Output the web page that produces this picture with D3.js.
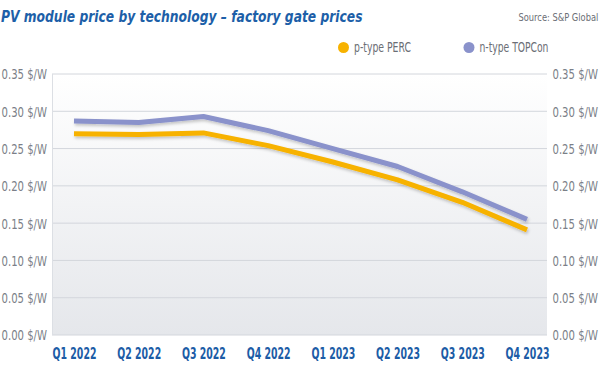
<!DOCTYPE html>
<html>
<head>
<meta charset="utf-8">
<script src="https://cdn.jsdelivr.net/npm/d3@7"></script>
<style>
    body { margin: 0; background: #fff; }
    svg text { font-family: "DejaVu Sans Condensed", "Roboto", sans-serif; }
</style>
</head>
<body>
<div id="chart"></div>
<script>
(function () {
    "use strict";

    const quarters = ["Q1 2022", "Q2 2022", "Q3 2022", "Q4 2022", "Q1 2023", "Q2 2023", "Q3 2023", "Q4 2023"];
    const percPrices = [0.270, 0.269, 0.271, 0.254, 0.232, 0.208, 0.178, 0.141];
    const topconPrices = [0.287, 0.285, 0.293, 0.274, 0.250, 0.226, 0.192, 0.155];
    const yTicks = [0, 0.05, 0.10, 0.15, 0.20, 0.25, 0.30, 0.35];

    const seriesList = [
        { name: "p-type PERC", values: percPrices, color: "#f7b200", textWidth: 57 },
        { name: "n-type TOPCon", values: topconPrices, color: "#8a92cb", textWidth: 69 }
    ];

    const width = 600;
    const height = 381;
    const plot = { left: 52, right: 547, top: 74, bottom: 335 };

    const svg = d3.select("#chart").append("svg")
        .attr("width", width)
        .attr("height", height);

    const defs = svg.append("defs");

    const grad = defs.append("linearGradient")
        .attr("id", "plot-bg")
        .attr("x1", 0).attr("x2", 0)
        .attr("y1", 0).attr("y2", 1);
    grad.append("stop").attr("offset", "0%").attr("stop-color", "#ffffff");
    grad.append("stop").attr("offset", "100%").attr("stop-color", "#e5e7eb");

    const shadow = defs.append("filter")
        .attr("id", "line-shadow")
        .attr("x", "-10%").attr("y", "-30%")
        .attr("width", "120%").attr("height", "160%");
    shadow.append("feDropShadow")
        .attr("dx", 1).attr("dy", 2)
        .attr("stdDeviation", 1.5)
        .attr("flood-color", "#000")
        .attr("flood-opacity", 0.22);

    const xScale = d3.scalePoint()
        .domain(quarters)
        .range([74, 527]);

    const yScale = d3.scaleLinear()
        .domain([0, 0.35])
        .range([plot.bottom, plot.top]);

    // squeeze a text horizontally to a given width (condensed look)
    function squeeze(sel, targetWidth) {
        sel.each(function (d) {
            const w = this.getComputedTextLength();
            const tw = typeof targetWidth === "function" ? targetWidth(d) : targetWidth;
            const x = +this.getAttribute("x") || 0;
            d3.select(this).attr("transform",
                `translate(${x},0) scale(${tw / w},1) translate(${-x},0)`);
        });
    }

    // plot background
    svg.append("rect")
        .attr("x", plot.left)
        .attr("y", plot.top)
        .attr("width", plot.right - plot.left)
        .attr("height", plot.bottom - plot.top)
        .attr("fill", "url(#plot-bg)");

    // grid lines
    svg.append("g")
        .selectAll("line")
        .data(yTicks)
        .join("line")
        .attr("x1", plot.left)
        .attr("x2", plot.right)
        .attr("y1", d => yScale(d))
        .attr("y2", d => yScale(d))
        .attr("stroke", "#d3d6dc")
        .attr("stroke-width", 1);

    svg.append("line")
        .attr("x1", plot.left + 0.5)
        .attr("x2", plot.left + 0.5)
        .attr("y1", plot.top)
        .attr("y2", plot.bottom)
        .attr("stroke", "#dcdfe4");

    const fmt = d => d.toFixed(2) + " $/W";

    // left axis
    const leftAxis = svg.append("g")
        .attr("transform", `translate(${plot.left - 5},0)`)
        .call(d3.axisLeft(yScale).tickValues(yTicks).tickFormat(fmt).tickSize(0).tickPadding(0));
    leftAxis.select(".domain").remove();

    // right axis
    const rightAxis = svg.append("g")
        .attr("transform", `translate(${plot.right + 5.5},0)`)
        .call(d3.axisRight(yScale).tickValues(yTicks).tickFormat(fmt).tickSize(0).tickPadding(0));
    rightAxis.select(".domain").remove();

    svg.selectAll(".tick text")
        .attr("font-family", null)
        .attr("font-size", 14)
        .attr("fill", "#7b7f88")
        .attr("dy", "0.35em")
        .call(squeeze, 45.5);

    // bottom axis
    const bottomAxis = svg.append("g")
        .attr("transform", `translate(0,${plot.bottom})`)
        .call(d3.axisBottom(xScale).tickSize(0).tickPadding(13));
    bottomAxis.select(".domain").remove();
    bottomAxis.selectAll("text")
        .attr("font-family", null)
        .attr("font-size", 15)
        .attr("font-weight", "bold")
        .attr("fill", "#1c5ca6")
        .call(squeeze, 44);

    // lines
    const line = d3.line()
        .x((d, i) => xScale(quarters[i]))
        .y(d => yScale(d));

    svg.append("g")
        .selectAll("path")
        .data(seriesList)
        .join("path")
        .attr("d", d => line(d.values))
        .attr("fill", "none")
        .attr("stroke", d => d.color)
        .attr("stroke-width", 5)
        .attr("stroke-linejoin", "round")
        .attr("filter", "url(#line-shadow)");

    // title
    svg.append("text")
        .attr("x", 1)
        .attr("y", 22)
        .attr("font-size", 16.5)
        .attr("font-weight", "bold")
        .attr("font-style", "italic")
        .attr("fill", "#1d5fa8")
        .text("PV module price by technology \u2013 factory gate prices")
        .call(squeeze, 362);

    svg.append("text")
        .attr("x", 518.5)
        .attr("y", 21)
        .attr("font-size", 10.5)
        .attr("fill", "#6b6e75")
        .text("Source: S&P Global")
        .call(squeeze, 80);

    // legend
    const legendX = [343.5, 469];
    const legend = svg.append("g")
        .selectAll("g")
        .data(seriesList)
        .join("g")
        .attr("transform", (d, i) => `translate(${legendX[i]},47.5)`);

    legend.append("circle")
        .attr("r", 5.5)
        .attr("fill", d => d.color);

    legend.append("text")
        .attr("x", 10.5)
        .attr("dy", "0.35em")
        .attr("font-size", 13.5)
        .attr("fill", "#6b6e75")
        .text(d => d.name)
        .call(squeeze, d => d.textWidth);
}());
</script>
</body>
</html>
